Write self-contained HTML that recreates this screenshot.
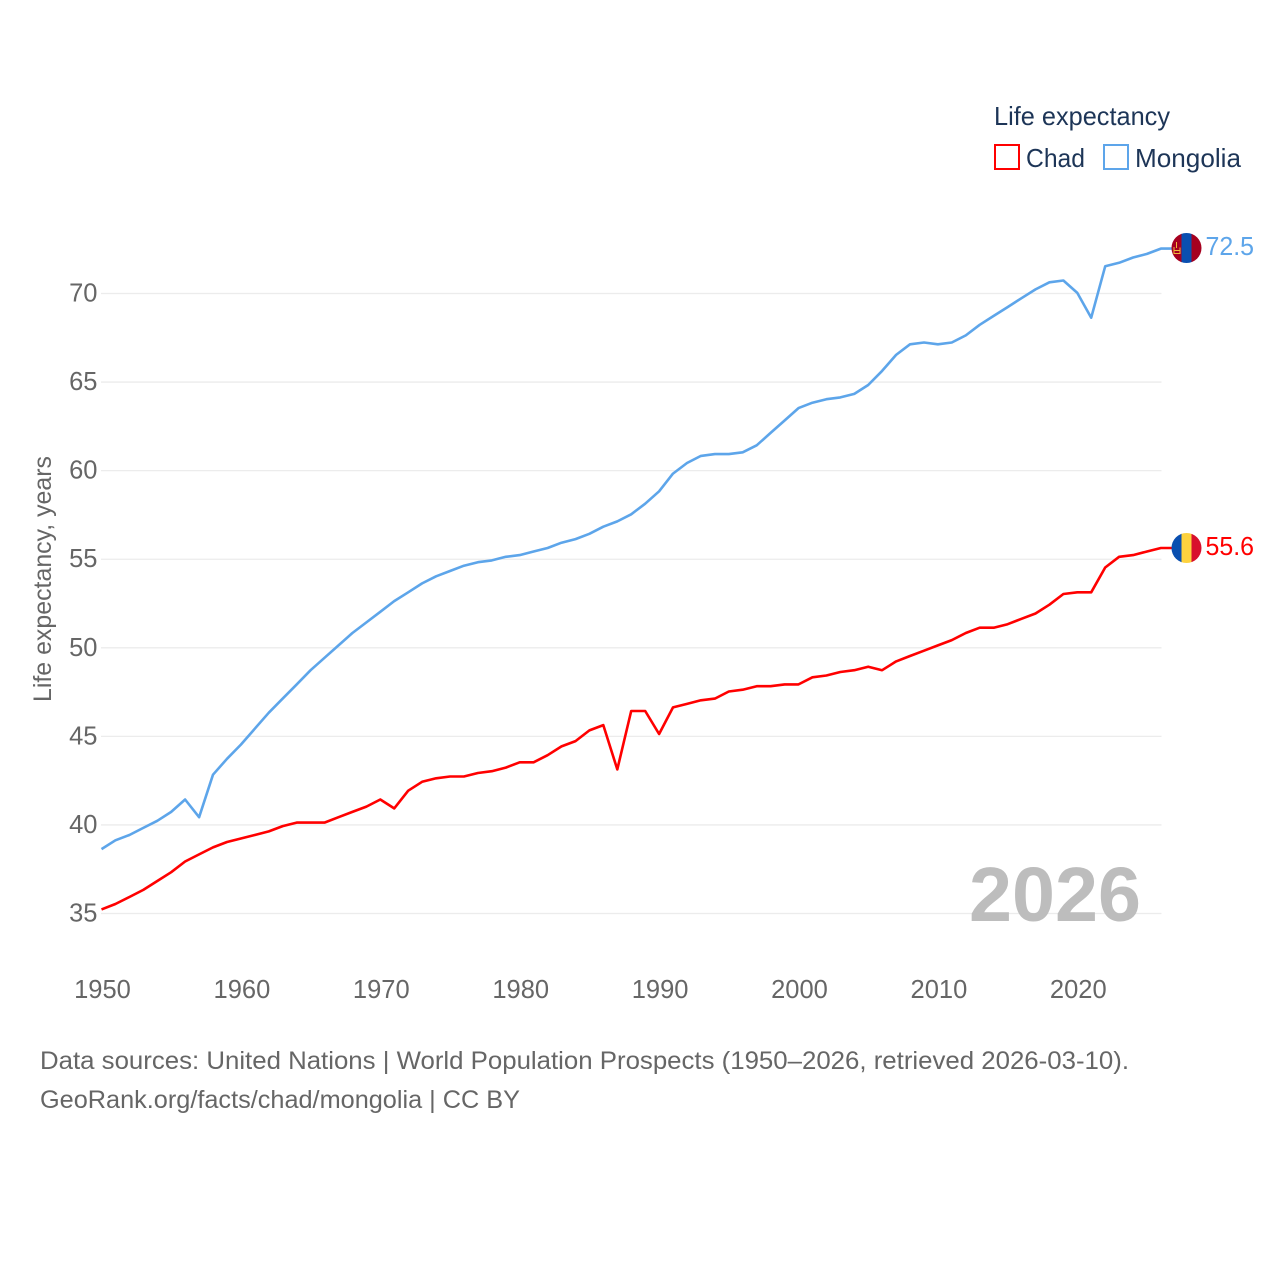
<!DOCTYPE html>
<html lang="en">
<head>
<meta charset="utf-8">
<title>Life expectancy: Chad and Mongolia</title>
<style>
html,body{margin:0;padding:0;background:#fff;width:1280px;height:1280px;overflow:hidden}
svg{display:block}
text{font-family:"Liberation Sans",sans-serif}
</style>
</head>
<body>
<svg id="chart" xmlns="http://www.w3.org/2000/svg" width="1280" height="1280" viewBox="0 0 1280 1280">
  <rect width="1280" height="1280" fill="#fff"/>
  <g id="grid"></g>
  <g id="yticks"></g>
  <g id="xticks"></g>
  <text transform="translate(51 702) rotate(-90)" font-size="25" fill="#666" textLength="246" lengthAdjust="spacingAndGlyphs">Life expectancy, years</text>
  <text x="969" y="921" font-size="77" font-weight="700" fill="#bdbdbd" textLength="172" lengthAdjust="spacingAndGlyphs">2026</text>
  <polyline id="line-chad" fill="none" stroke="#ff0000" stroke-width="2.6" stroke-linejoin="round"/>
  <polyline id="line-mongolia" fill="none" stroke="#5da5ea" stroke-width="2.6" stroke-linejoin="round"/>
  <defs>
    <clipPath id="clip-mn"><circle cx="1186.5" cy="248" r="15"/></clipPath>
    <clipPath id="clip-td"><circle cx="1186.5" cy="548" r="15"/></clipPath>
  </defs>
  <g clip-path="url(#clip-mn)">
    <rect x="1171" y="232" width="11" height="32" fill="#a6001f"/>
    <rect x="1181.5" y="232" width="10" height="32" fill="#0a4fb0"/>
    <rect x="1191.5" y="232" width="11" height="32" fill="#a6001f"/>
    <path d="M1176.5 242v6M1174 247v6.5h6v-6M1174 250.500h6" fill="none" stroke="#f0b93a" stroke-width="1"/>
  </g>
  <g clip-path="url(#clip-td)">
    <rect x="1171" y="532" width="11" height="32" fill="#0a4fb0"/>
    <rect x="1181.5" y="532" width="10" height="32" fill="#fdd23e"/>
    <rect x="1191.5" y="532" width="11" height="32" fill="#d80f2c"/>
  </g>
  <text x="1205.5" y="255" font-size="26" fill="#5da5ea" textLength="48.5" lengthAdjust="spacingAndGlyphs">72.5</text>
  <text x="1205.5" y="555" font-size="26" fill="#ff0000" textLength="48.5" lengthAdjust="spacingAndGlyphs">55.6</text>
  <g>
    <text x="994" y="125" font-size="26" fill="#1d3557" textLength="176" lengthAdjust="spacingAndGlyphs">Life expectancy</text>
    <rect x="995" y="145" width="24" height="24" fill="#fff" stroke="#ff0000" stroke-width="2"/>
    <text x="1026" y="167" font-size="26" fill="#1d3557" textLength="59" lengthAdjust="spacingAndGlyphs">Chad</text>
    <rect x="1104" y="145" width="24" height="24" fill="#fff" stroke="#5da5ea" stroke-width="2"/>
    <text x="1135" y="167" font-size="26" fill="#1d3557" textLength="106" lengthAdjust="spacingAndGlyphs">Mongolia</text>
  </g>
  <text x="40" y="1069" font-size="25" fill="#666" textLength="1089" lengthAdjust="spacingAndGlyphs">Data sources: United Nations | World Population Prospects (1950–2026, retrieved 2026-03-10).</text>
  <text x="40" y="1108" font-size="25" fill="#666" textLength="480" lengthAdjust="spacingAndGlyphs">GeoRank.org/facts/chad/mongolia | CC BY</text>
</svg>
<script>
const firstYear = 1950;
const chadValues = [35.2,35.5,35.9,36.3,36.8,37.3,37.9,38.3,38.7,39.0,39.2,39.4,39.6,39.9,40.1,40.1,40.1,40.4,40.7,41.0,41.4,40.9,41.9,42.4,42.6,42.7,42.7,42.9,43.0,43.2,43.5,43.5,43.9,44.4,44.7,45.3,45.6,43.1,46.4,46.4,45.1,46.6,46.8,47.0,47.1,47.5,47.6,47.8,47.8,47.9,47.9,48.3,48.4,48.6,48.7,48.9,48.7,49.2,49.5,49.8,50.1,50.4,50.8,51.1,51.1,51.3,51.6,51.9,52.4,53.0,53.1,53.1,54.5,55.1,55.2,55.4,55.6];
const mongoliaValues = [38.6,39.1,39.4,39.8,40.2,40.7,41.4,40.4,42.8,43.7,44.5,45.4,46.3,47.1,47.9,48.7,49.4,50.1,50.8,51.4,52.0,52.6,53.1,53.6,54.0,54.3,54.6,54.8,54.9,55.1,55.2,55.4,55.6,55.9,56.1,56.4,56.8,57.1,57.5,58.1,58.8,59.8,60.4,60.8,60.9,60.9,61.0,61.4,62.1,62.8,63.5,63.8,64.0,64.1,64.3,64.8,65.6,66.5,67.1,67.2,67.1,67.2,67.6,68.2,68.7,69.2,69.7,70.2,70.6,70.7,70.0,68.6,71.5,71.7,72.0,72.2,72.5];
const yTickValues = [35,40,45,50,55,60,65,70];
const xTickValues = [1950,1960,1970,1980,1990,2000,2010,2020];

const NS = 'http://www.w3.org/2000/svg';
function xScale(year){ return 101.5 + (year - 1950) * 13.94; }
function yScale(v){ return 913.5 - (v - 35) * 17.714; }
function lineY(v){ return yScale(v) - 0.6; }

const gridGroup = document.getElementById('grid');
const yGroup = document.getElementById('yticks');
const xGroup = document.getElementById('xticks');

yTickValues.forEach(function(v){
  const line = document.createElementNS(NS, 'line');
  
  
  line.setAttribute('x1', 101);
  line.setAttribute('x2', 1161.5);
  line.setAttribute('y1', yScale(v));
  line.setAttribute('y2', yScale(v));
  line.setAttribute('stroke', '#ececec');
  line.setAttribute('stroke-width', '1.3');
  gridGroup.appendChild(line);

  const label = document.createElementNS(NS, 'text');
  
  
  label.setAttribute('x', 97.5);
  label.setAttribute('y', yScale(v) + 8);
  label.setAttribute('text-anchor', 'end');
  label.setAttribute('font-size', '25.5');
  label.setAttribute('fill', '#666');
  label.textContent = String(v);
  yGroup.appendChild(label);
});

xTickValues.forEach(function(y){
  const label = document.createElementNS(NS, 'text');
  
  
  label.setAttribute('x', xScale(y) + 1);
  label.setAttribute('y', 998);
  label.setAttribute('text-anchor', 'middle');
  label.setAttribute('font-size', '25.5');
  label.setAttribute('fill', '#666');
  label.textContent = String(y);
  xGroup.appendChild(label);
});

function linePoints(values){
  const pts = values.map(function(v, i){
    return xScale(firstYear + i).toFixed(1) + ',' + lineY(v).toFixed(1);
  });
  pts.push('1172,' + lineY(values[values.length - 1]).toFixed(1));
  return pts.join(' ');
}
document.getElementById('line-chad').setAttribute('points', linePoints(chadValues));
document.getElementById('line-mongolia').setAttribute('points', linePoints(mongoliaValues));
</script>
</body>
</html>
